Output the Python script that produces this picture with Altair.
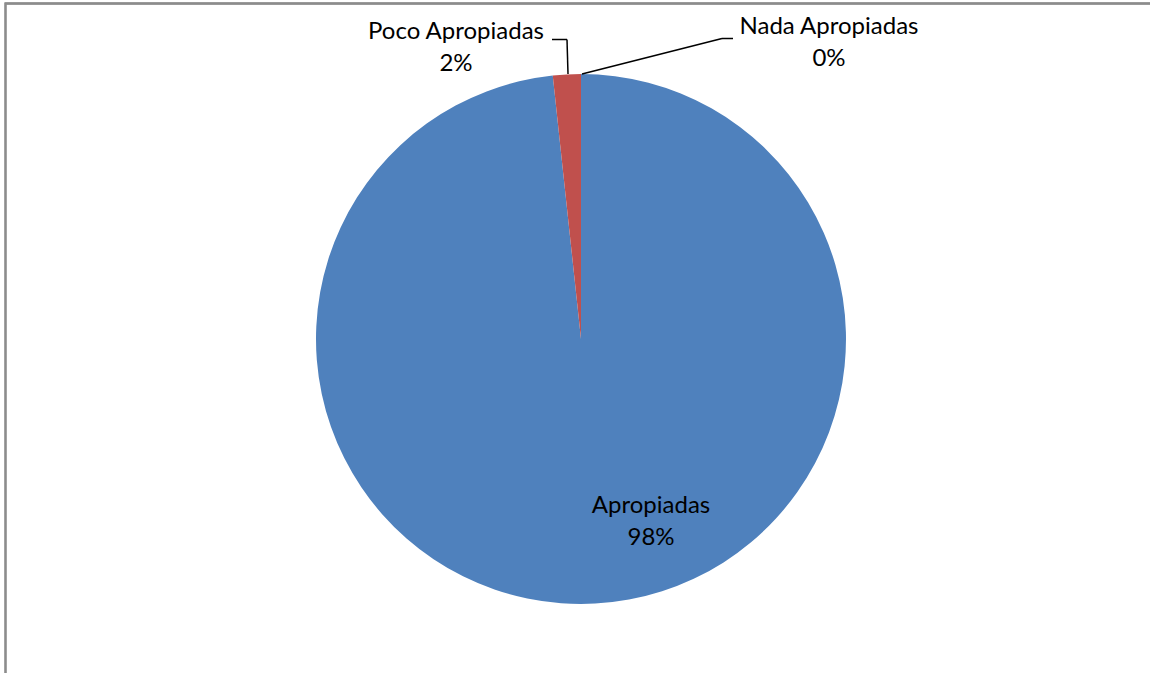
import altair as alt
import pandas as pd

# ---- data ----
categories = ["Apropiadas", "Poco Apropiadas", "Nada Apropiadas"]
values = [98.3, 1.7, 0.0]
pct_labels = ["98%", "2%", "0%"]
colors = ["#4F81BD", "#C0504D", "#9BBB59"]

# ---- layout (pixels) ----
W, H = 1150, 673
CX, CY, R = 581, 339, 265
label_anchor = {
    "Apropiadas": (651, 513),
    "Poco Apropiadas": (456, 39),
    "Nada Apropiadas": (829, 34),
}
line_gap = 32
leader_segments = [
    (552, 39.5, 567, 39.5),
    (567, 39.5, 568, 74),
    (582, 74, 722, 38.5),
    (722, 38.5, 733, 38.5),
]

pie_df = pd.DataFrame({"cat": categories, "val": values, "ord": list(range(len(categories)))})

rows = []
for cat, pct in zip(categories, pct_labels):
    x, y = label_anchor[cat]
    rows.append({"x": x, "y": y, "t": cat})
    rows.append({"x": x, "y": y + line_gap, "t": pct})
text_df = pd.DataFrame(rows)
seg_df = pd.DataFrame(leader_segments, columns=["x", "y", "x2", "y2"])

xs = alt.Scale(domain=[0, W], range=[0, W])
ys = alt.Scale(domain=[0, H], range=[0, H])

pie = alt.Chart(pie_df).mark_arc(radius=R).encode(
    theta=alt.Theta("val:Q", stack=True),
    color=alt.Color("cat:N", scale=alt.Scale(domain=categories, range=colors), legend=None),
    order=alt.Order("ord:Q"),
    x=alt.value(CX),
    y=alt.value(CY),
)

texts = alt.Chart(text_df).mark_text(
    font="Lato", fontSize=24, color="#000000", align="center", baseline="alphabetic"
).encode(
    x=alt.X("x:Q", scale=xs, axis=None),
    y=alt.Y("y:Q", scale=ys, axis=None),
    text="t:N",
)

leaders = alt.Chart(seg_df).mark_rule(color="#000000", strokeWidth=1.5).encode(
    x=alt.X("x:Q", scale=xs, axis=None),
    y=alt.Y("y:Q", scale=ys, axis=None),
    x2="x2:Q",
    y2="y2:Q",
)

border = alt.Chart(pie_df).mark_rect(fillOpacity=0, stroke="#8c8c8c", strokeWidth=1.8).encode(
    x=alt.value(5.5), x2=alt.value(1200), y=alt.value(3.5), y2=alt.value(720)
)

chart = alt.layer(border, pie, leaders, texts).properties(
    width=W, height=H, padding=0, autosize=alt.AutoSizeParams(type="none"),
    background="#ffffff",
).configure_view(strokeWidth=0)

chart.save("out.html", embed_options={"renderer": "svg", "actions": False})
